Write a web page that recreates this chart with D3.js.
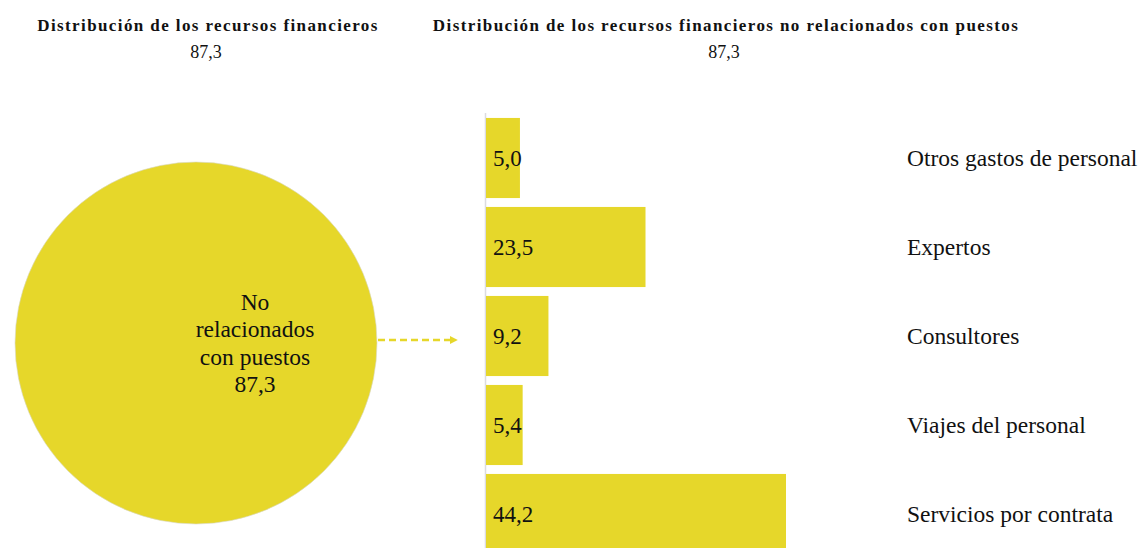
<!DOCTYPE html>
<html>
<head>
<meta charset="utf-8">
<script src="https://cdn.jsdelivr.net/npm/d3@7"></script>
<style>
  body { margin: 0; background: #fff; }
  svg text { font-family: "Liberation Serif", "Times New Roman", "DejaVu Serif", serif; }
</style>
</head>
<body>
<div id="chart"></div>
<script>
/* data */
var totalLabel = ["No", "relacionados", "con puestos", "87,3"];
var totalValue = [87.3];
var categories = ["Otros gastos de personal", "Expertos", "Consultores", "Viajes del personal", "Servicios por contrata"];
var values = [5.0, 23.5, 9.2, 5.4, 44.2];
var titles = ["Distribución de los recursos financieros", "Distribución de los recursos financieros no relacionados con puestos"];
var subtitles = ["87,3", "87,3"];

var W = 1140, H = 548;
var YELLOW = "#e6d72a";
var SERIF = "'Liberation Serif', 'Times New Roman', 'DejaVu Serif', serif";
var fmt = function(v) { return d3.format(".1f")(v).replace(".", ","); };

var svg = d3.select("#chart").append("svg")
  .attr("width", W)
  .attr("height", H)
  .attr("font-family", SERIF);

/* titles */
var titleX = [208, 726];
svg.selectAll(".title")
  .data(titles)
  .enter()
  .append("text")
  .attr("class", "title")
  .attr("x", (d, i) => titleX[i])
  .attr("y", 31)
  .attr("text-anchor", "middle")
  .style("font-weight", "bold")
  .style("font-size", "17px")
  .style("letter-spacing", "1.4px")
  .style("fill", "#111")
  .text(d => d);

svg.selectAll(".subtitle")
  .data(subtitles)
  .enter()
  .append("text")
  .attr("class", "subtitle")
  .attr("x", (d, i) => titleX[i] - 2)
  .attr("y", 58)
  .attr("text-anchor", "middle")
  .style("font-size", "18px")
  .style("fill", "#111")
  .text(d => d);

/* big circle (single-slice pie) */
var pie = d3.pie().sort(null);
var arc = d3.arc().innerRadius(0).outerRadius(181);

var circle = svg.append("g")
  .attr("transform", "translate(196, 343)");

circle.selectAll("path")
  .data(pie(totalValue))
  .enter()
  .append("path")
  .attr("d", arc)
  .style("fill", YELLOW)
  .style("stroke", "#d8d8c8")
  .style("stroke-width", 0.6);

circle.append("text")
  .attr("x", 59)
  .attr("y", -33)
  .attr("text-anchor", "middle")
  .style("font-size", "23.5px")
  .style("fill", "#111")
  .selectAll("tspan")
  .data(totalLabel)
  .enter()
  .append("tspan")
  .attr("x", 59)
  .attr("dy", (d, i) => i === 0 ? 0 : 27.3)
  .text(d => d);

/* dashed arrow */
svg.append("defs")
  .append("marker")
  .attr("id", "arrow")
  .attr("viewBox", "0 0 10 10")
  .attr("refX", 0)
  .attr("refY", 5)
  .attr("markerWidth", 3)
  .attr("markerHeight", 3.2)
  .attr("orient", "auto")
  .append("path")
  .attr("d", "M0,0 L10,5 L0,10 Z")
  .style("fill", YELLOW);

svg.append("line")
  .attr("x1", 378)
  .attr("y1", 340)
  .attr("x2", 450)
  .attr("y2", 340)
  .style("stroke", YELLOW)
  .style("stroke-width", 2.6)
  .style("stroke-dasharray", "7,4")
  .attr("marker-end", "url(#arrow)");

/* bar chart */
var x0 = 486;
var xScale = d3.scaleLinear()
  .domain([0, 44.2])
  .range([x0, 786]);

var yScale = d3.scaleBand()
  .domain(categories)
  .range([113.5, 558.5])
  .paddingInner(0.1)
  .paddingOuter(0.05);

svg.append("line")
  .attr("x1", x0 - 0.5)
  .attr("x2", x0 - 0.5)
  .attr("y1", 113)
  .attr("y2", H)
  .style("stroke", "#dcdce0")
  .style("stroke-width", 1.5);

var bars = svg.append("g").attr("class", "bars");

bars.selectAll("rect")
  .data(values)
  .enter()
  .append("rect")
  .attr("x", xScale(0))
  .attr("y", (d, i) => yScale(categories[i]))
  .attr("width", d => xScale(d) - xScale(0))
  .attr("height", yScale.bandwidth())
  .style("fill", YELLOW);

bars.selectAll(".val")
  .data(values)
  .enter()
  .append("text")
  .attr("class", "val")
  .attr("x", xScale(0) + 7)
  .attr("y", (d, i) => yScale(categories[i]) + yScale.bandwidth() / 2)
  .attr("dy", "0.35em")
  .style("font-size", "23px")
  .style("fill", "#111")
  .text(d => fmt(d));

svg.selectAll(".cat")
  .data(categories)
  .enter()
  .append("text")
  .attr("class", "cat")
  .attr("x", 907)
  .attr("y", d => yScale(d) + yScale.bandwidth() / 2)
  .attr("dy", "0.35em")
  .style("font-size", "23.5px")
  .style("fill", "#111")
  .text(d => d);
</script>
</body>
</html>
